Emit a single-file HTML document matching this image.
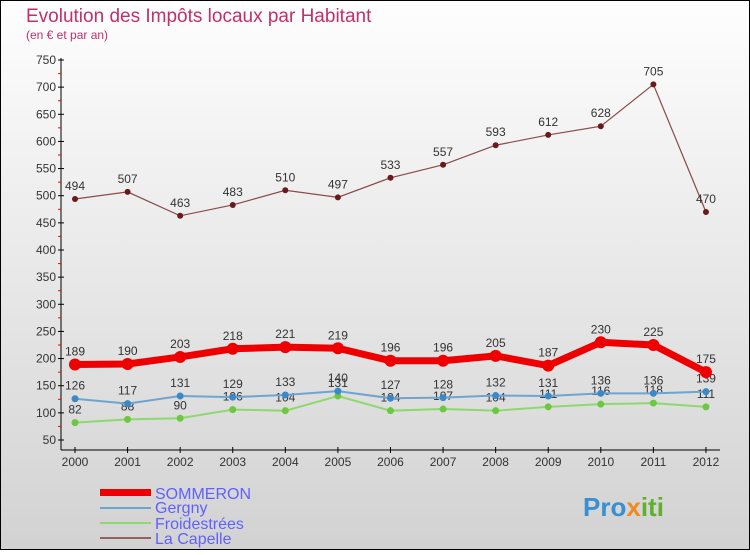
<!DOCTYPE html>
<html><head><meta charset="utf-8"><style>
body{margin:0}
#c{width:750px;height:550px;position:relative;font-family:"Liberation Sans",sans-serif;}
</style></head><body>
<div id="c">
<svg id="s" width="750" height="550" xmlns="http://www.w3.org/2000/svg">
<defs><linearGradient id="bg" x1="0" y1="0" x2="0" y2="1"><stop offset="0" stop-color="#fefefe"/><stop offset="1" stop-color="#d2d2d2"/></linearGradient></defs>
<rect x="0.5" y="0.5" width="749" height="549" fill="url(#bg)" stroke="#000"/>
<text x="26" y="22" font-size="19" fill="#c0306a">Evolution des Impôts locaux par Habitant</text>
<text x="26" y="39" font-size="12" fill="#c0306a">(en € et par an)</text>
<g id="axes"></g><g id="series"></g>
<g>
<rect x="100" y="489" width="51" height="7" fill="#e00"/>
<line x1="100" y1="508" x2="151" y2="508" stroke="#6fa4cf" stroke-width="2"/>
<line x1="100" y1="523" x2="151" y2="523" stroke="#8fd86f" stroke-width="2"/>
<line x1="100" y1="538" x2="151" y2="538" stroke="#956060" stroke-width="2"/>
<text x="155" y="499" font-size="16" fill="#6060ff">SOMMERON</text>
<text x="155" y="513" font-size="16" fill="#6060ff">Gergny</text>
<text x="155" y="529" font-size="16" fill="#6060ff">Froidestrées</text>
<text x="155" y="544" font-size="16" fill="#6060ff">La Capelle</text>
</g>
<text x="583" y="516" font-size="26" font-weight="bold" fill="#3a8fd0">Pro<tspan fill="#f08a20">x</tspan><tspan fill="#60b030">iti</tspan></text>
</svg></div>
<script>
const years=[2000,2001,2002,2003,2004,2005,2006,2007,2008,2009,2010,2011,2012];
const yTicks=[50,100,150,200,250,300,350,400,450,500,550,600,650,700,750];
const sommeron=[189,190,203,218,221,219,196,196,205,187,230,225,175];
const gergny=[126,117,131,129,133,140,127,128,132,131,136,136,139];
const froid=[82,88,90,106,104,131,104,107,104,111,116,118,111];
const capelle=[494,507,463,483,510,497,533,557,593,612,628,705,470];
const NS="http://www.w3.org/2000/svg";
const X=i=>75+i*52.58, Y=v=>440-(v-50)*(380/700);
function el(t,a,p){const e=document.createElementNS(NS,t);for(const k in a)e.setAttribute(k,a[k]);p.appendChild(e);return e;}
const ax=document.getElementById('axes');
const ya=el('line',{x1:61,y1:58,x2:61,y2:450,stroke:'#000'},ax);

const xa=el('line',{x1:61,y1:450,x2:720,y2:450,stroke:'#000'},ax);

yTicks.forEach(v=>{el('line',{x1:58,y1:Y(v),x2:64,y2:Y(v),stroke:'#000'},ax);
 if(v<750)el('line',{x1:58,y1:Y(v+25),x2:61,y2:Y(v+25),stroke:'#f00'},ax);
 const t=el('text',{x:56,y:Y(v)+4,'font-size':12,'text-anchor':'end',fill:'#333'},ax);t.textContent=v;
 });
years.forEach((y,i)=>{el('line',{x1:X(i),y1:447,x2:X(i),y2:453,stroke:'#000'},ax);
 const t=el('text',{x:X(i),y:466,'font-size':12,'text-anchor':'middle',fill:'#333'},ax);t.textContent=y;
 });
const sg=document.getElementById('series');
function series(name,vals,color,w,r,dot){
 const g=el('g',{},sg);
 el('polyline',{points:vals.map((v,i)=>X(i)+','+Y(v)).join(' '),fill:'none',stroke:color,'stroke-width':w},g);
 vals.forEach((v,i)=>{const c=el('circle',{cx:X(i),cy:Y(v),r:r,fill:dot},g);
  
  const t=el('text',{x:X(i),y:Y(v)-9,'font-size':12,'text-anchor':'middle',fill:'#333'},g);t.textContent=v;
  });
}
series('froidestrees-series',froid,'#8fd86f',2,3.5,'#6cc840');
series('gergny-series',gergny,'#6fa4cf',2,3.5,'#3a88c8');
series('capelle-series',capelle,'#8a4a4a',1.2,3,'#6a1a1a');
series('sommeron-series',sommeron,'#ee0000',7,6,'#ee0000');
</script></body></html>
